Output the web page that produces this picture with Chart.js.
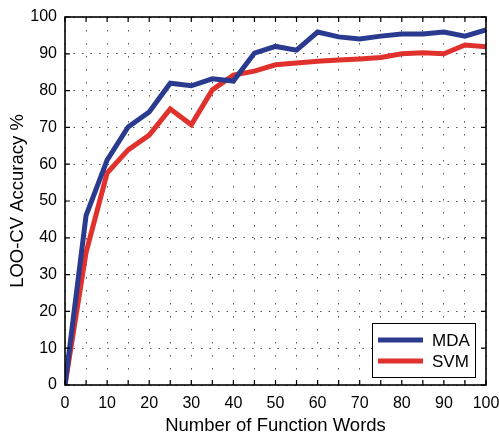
<!DOCTYPE html>
<html><head><meta charset="utf-8">
<script src="https://cdn.jsdelivr.net/npm/chart.js@4"></script>
<style>html,body{margin:0;padding:0;background:#fff;}#wrap{width:499px;height:435px;}</style>
</head><body><div id="wrap"><canvas id="c" width="499" height="435"></canvas></div>
<script>
const numWords = [0,5,10,15,20,25,30,35,40,45,50,55,60,65,70,75,80,85,90,95,100];
const mdaAcc = [0,46,61.1,70.1,74.2,82,81.3,83.2,82.6,90.2,92,91,95.9,94.6,94,94.8,95.4,95.4,95.9,94.8,96.5];
const svmAcc = [0,36,57.6,63.9,67.9,75,70.7,80.2,84.2,85.3,87,87.5,88,88.3,88.6,89,90,90.3,90,92.4,91.9];
const seriesNames = ['MDA','SVM'];
const colors = ['#2A3A8F','#E0312D'];
const FONT = 'Liberation Sans, Arial, Helvetica, sans-serif';

const toPts = (ys) => numWords.map((x,i)=>({x:x,y:ys[i]}));

const boxPlugin = {
  id:'box',
  afterDraw(chart){
    const {ctx, chartArea:a, scales:{x,y}} = chart;
    ctx.save();
    ctx.strokeStyle='#000'; ctx.lineWidth=1.2;
    for(let v=0; v<=100; v+=5){
      const px = x.getPixelForValue(v);
      ctx.beginPath();
      ctx.moveTo(px,a.bottom); ctx.lineTo(px,a.bottom-5);
      ctx.moveTo(px,a.top); ctx.lineTo(px,a.top+5);
      ctx.stroke();
    }
    for(let v=0; v<=100; v+=10){
      const py = y.getPixelForValue(v);
      ctx.beginPath();
      ctx.moveTo(a.left,py); ctx.lineTo(a.left+5,py);
      ctx.moveTo(a.right,py); ctx.lineTo(a.right-5,py);
      ctx.stroke();
    }
    ctx.lineWidth=1.6;
    ctx.strokeRect(a.left,a.top,a.right-a.left,a.bottom-a.top);
    const lx=372, ly=323, lw=103, lh=54;
    ctx.fillStyle='#fff'; ctx.fillRect(lx,ly,lw,lh);
    ctx.lineWidth=1; ctx.strokeStyle='#000'; ctx.strokeRect(lx+0.5,ly+0.5,lw,lh);
    ctx.font='17px '+FONT; ctx.textBaseline='middle'; ctx.textAlign='left';
    seriesNames.forEach((n,i)=>{
      const yy = ly+17+i*21;
      ctx.strokeStyle=colors[i]; ctx.lineWidth=5;
      ctx.beginPath(); ctx.moveTo(lx+6,yy); ctx.lineTo(lx+51,yy); ctx.stroke();
      ctx.fillStyle='#000'; ctx.fillText(n,lx+60,yy+1);
    });
    ctx.restore();
  }
};

new Chart(document.getElementById('c'),{
  type:'line',
  data:{datasets:[
    {label:seriesNames[0],data:toPts(mdaAcc),borderColor:colors[0],borderWidth:5,pointRadius:0,tension:0,fill:false,borderJoinStyle:'miter'},
    {label:seriesNames[1],data:toPts(svmAcc),borderColor:colors[1],borderWidth:5,pointRadius:0,tension:0,fill:false,borderJoinStyle:'miter'}
  ]},
  options:{
    responsive:false, animation:false, devicePixelRatio:1,
    layout:{padding:{top:17,right:13,left:5,bottom:0}},
    plugins:{legend:{display:false},tooltip:{enabled:false}},
    scales:{
      x:{type:'linear',min:0,max:100,
        afterFit(s){s.height=50; s.paddingRight=0; s.paddingLeft=0;},
        ticks:{stepSize:5,autoSkip:false,maxRotation:0,padding:9,color:'#000',font:{family:FONT,size:16},
          callback:(v)=> v%10===0 ? String(v) : ''},
        grid:{color:'#555',lineWidth:1,drawTicks:false},
        border:{display:false,dash:[1.5,11.5]},
        title:{display:true,text:'Number of Function Words',color:'#000',font:{family:FONT,size:18.5,lineHeight:1},padding:{top:0,bottom:0}}
      },
      y:{min:0,max:100,
        afterFit(s){s.width=60; s.paddingTop=0; s.paddingBottom=0;},
        ticks:{stepSize:10,padding:8,color:'#000',font:{family:FONT,size:16}},
        grid:{color:'#555',lineWidth:1,drawTicks:false},
        border:{display:false,dash:[1.5,7]},
        title:{display:true,text:'LOO-CV Accuracy %',color:'#000',font:{family:FONT,size:18.5,lineHeight:1},padding:{top:4,bottom:0}}
      }
    }
  },
  plugins:[boxPlugin]
});
</script></body></html>
